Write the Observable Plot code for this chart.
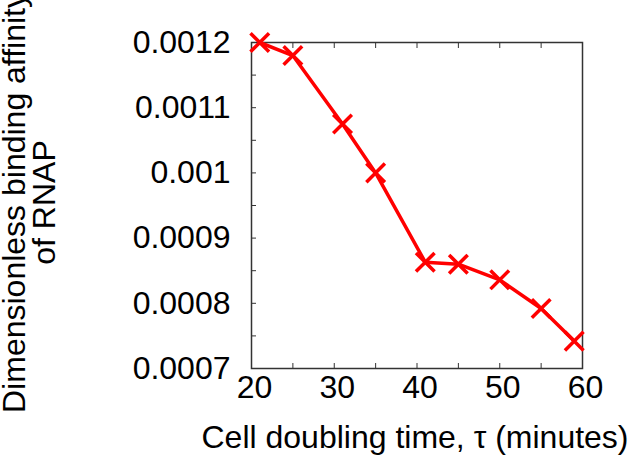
<!DOCTYPE html>
<html>
<head>
<meta charset="utf-8">
<script src="https://cdn.jsdelivr.net/npm/d3@7"></script>
<script src="https://cdn.jsdelivr.net/npm/@observablehq/plot@0.6"></script>
<style>
  html, body { margin: 0; padding: 0; background: white; }
</style>
</head>
<body>
<div id="chart"></div>
<script>
const doublingTime = [21, 25, 31, 35, 41, 45, 50, 55, 59];
const affinity = [0.0012, 0.00118, 0.001075, 0.001, 0.000863, 0.00086, 0.000836, 0.000792, 0.000742];
const xTickValues = [20, 30, 40, 50, 60];
const xMinorTicks = [20, 25, 30, 35, 40, 45, 50, 55, 60];
const yTickValues = [0.0007, 0.0008, 0.0009, 0.001, 0.0011, 0.0012];
const yTickLabels = ["0.0007", "0.0008", "0.0009", "0.001", "0.0011", "0.0012"];
const yMinorTicks = [0.0007, 0.00075, 0.0008, 0.00085, 0.0009, 0.00095, 0.001, 0.00105, 0.0011, 0.00115, 0.0012];
const xLabel = "Cell doubling time, \u03C4 (minutes)";
const yLabel = "Dimensionless binding affinity\nof RNAP";

const data = doublingTime.map((t, i) => ({t, a: affinity[i]}));

const chart = Plot.plot({
  width: 629,
  height: 465,
  marginLeft: 251,
  marginRight: 47,
  marginTop: 42,
  marginBottom: 97,
  style: {fontFamily: "'Liberation Sans', Arial, sans-serif", fontSize: "32px", background: "white", color: "black"},
  x: {domain: [20, 60]},
  y: {domain: [0.0007, 0.0012]},
  marks: [
    Plot.frame({stroke: "#333", strokeWidth: 1.5}),
    Plot.axisX({anchor: "bottom", ticks: xMinorTicks, tickSize: 5, insetBottom: 5, tickFormat: () => "", label: null, stroke: "#333"}),
    Plot.axisX({anchor: "top", ticks: xMinorTicks, tickSize: 5, insetTop: 5, tickFormat: () => "", label: null, stroke: "#333"}),
    Plot.axisY({anchor: "left", ticks: yMinorTicks, tickSize: 5, insetLeft: 5, tickFormat: () => "", label: null, stroke: "#333"}),
    Plot.axisX({anchor: "bottom", ticks: xTickValues, tickSize: 0, tickPadding: 7, dx: 3, tickFormat: d => String(d), label: null, fontSize: 32}),
    Plot.axisY({anchor: "left", ticks: yTickValues, tickSize: 0, tickPadding: 21, tickFormat: (d, i) => yTickLabels[yTickValues.indexOf(d)], label: null, fontSize: 32}),
    Plot.line(data, {x: "t", y: "a", stroke: "red", strokeWidth: 3.5}),
    Plot.dot(data, {x: "t", y: "a", symbol: "times", r: 8.5, stroke: "red", strokeWidth: 3.5}),
    Plot.text([xLabel], {text: d => d, frameAnchor: "bottom", dx: -2, dy: 69, fontSize: 32, lineAnchor: "middle", fill: "black"}),
    Plot.text([yLabel], {text: d => d, frameAnchor: "left", dx: -221, dy: -3, rotate: -90, fontSize: 32, lineHeight: 0.95, lineAnchor: "middle", textAnchor: "middle", fill: "black"})
  ]
});
document.getElementById("chart").appendChild(chart);
</script>
</body>
</html>
